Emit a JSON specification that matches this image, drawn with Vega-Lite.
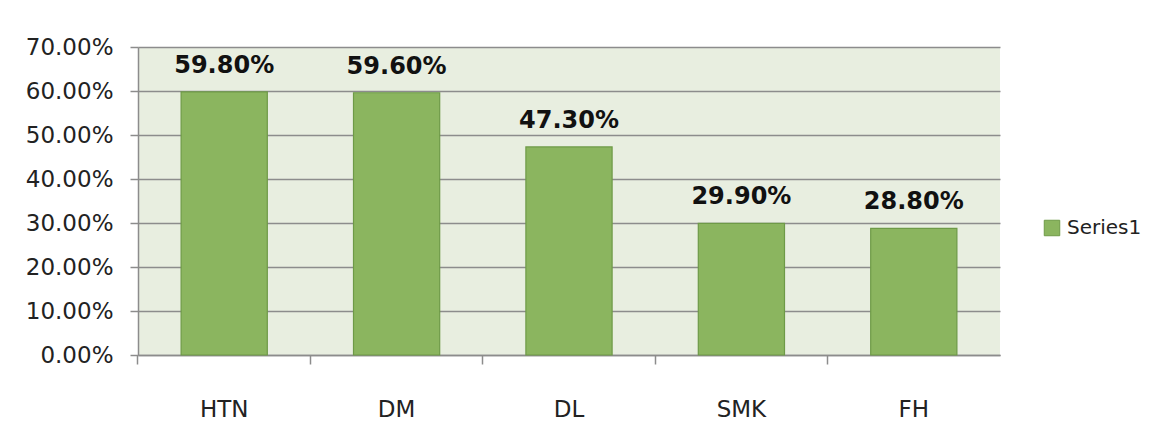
{
  "$schema": "https://vega.github.io/schema/vega-lite/v6.json",
  "width": 862,
  "height": 308,
  "autosize": {"type": "none"},
  "padding": {"left": 138, "top": 47, "right": 150, "bottom": 78},
  "background": "#ffffff",
  "data": {"values": [
    {"category": "HTN", "value": 0.598, "series": "Series1"},
    {"category": "DM", "value": 0.596, "series": "Series1"},
    {"category": "DL", "value": 0.473, "series": "Series1"},
    {"category": "SMK", "value": 0.299, "series": "Series1"},
    {"category": "FH", "value": 0.288, "series": "Series1"}
  ]},
  "encoding": {
    "x": {"field": "category", "type": "nominal", "sort": null,
      "scale": {"paddingInner": 0.5, "paddingOuter": 0.25},
      "axis": {"title": null, "labelAngle": 0, "labelFont": "DejaVu Sans", "labelFontSize": 23, "labelColor": "#222222",
        "labelPadding": 34, "bandPosition": -0.5, "tickSize": 9, "tickColor": "#8c8c8c", "tickWidth": 1.5,
        "domainColor": "#8c8c8c", "domainWidth": 1.5, "grid": false}},
    "y": {"field": "value", "type": "quantitative",
      "scale": {"domain": [0, 0.7]},
      "axis": {"title": null, "format": ".2%", "values": [0,0.1,0.2,0.3,0.4,0.5,0.6,0.7], "labelOverlap": false,
        "labelFont": "DejaVu Sans", "labelFontSize": 23, "labelColor": "#222222", "labelPadding": 17,
        "tickSize": 8, "tickColor": "#8c8c8c", "tickWidth": 1.5, "domainColor": "#8c8c8c", "domainWidth": 1.5,
        "grid": true, "gridColor": "#8c8c8c", "gridWidth": 1.3}}
  },
  "layer": [
    {"mark": {"type": "bar", "fill": "#8bb55f", "stroke": "#6e9a47", "strokeWidth": 1.2},
     "encoding": {"color": {"field": "series", "type": "nominal",
       "scale": {"range": ["#8bb55f"]},
       "legend": {"title": null, "orient": "none", "legendX": 904, "legendY": 171, "symbolType": "square", "symbolSize": 240,
         "symbolStrokeColor": "#6e9a47", "symbolStrokeWidth": 1, "labelFont": "DejaVu Sans", "labelFontSize": 20, "labelColor": "#222222", "labelOffset": 5}}}},
    {"mark": {"type": "text", "baseline": "bottom", "dy": -14, "font": "DejaVu Sans", "fontWeight": "bold", "fontSize": 24, "color": "#111111"},
     "encoding": {"text": {"field": "value", "type": "quantitative", "format": ".2%"}}}
  ],
  "config": {"view": {"fill": "#e8eee0", "stroke": "#8c8c8c", "strokeWidth": 0}}
}
